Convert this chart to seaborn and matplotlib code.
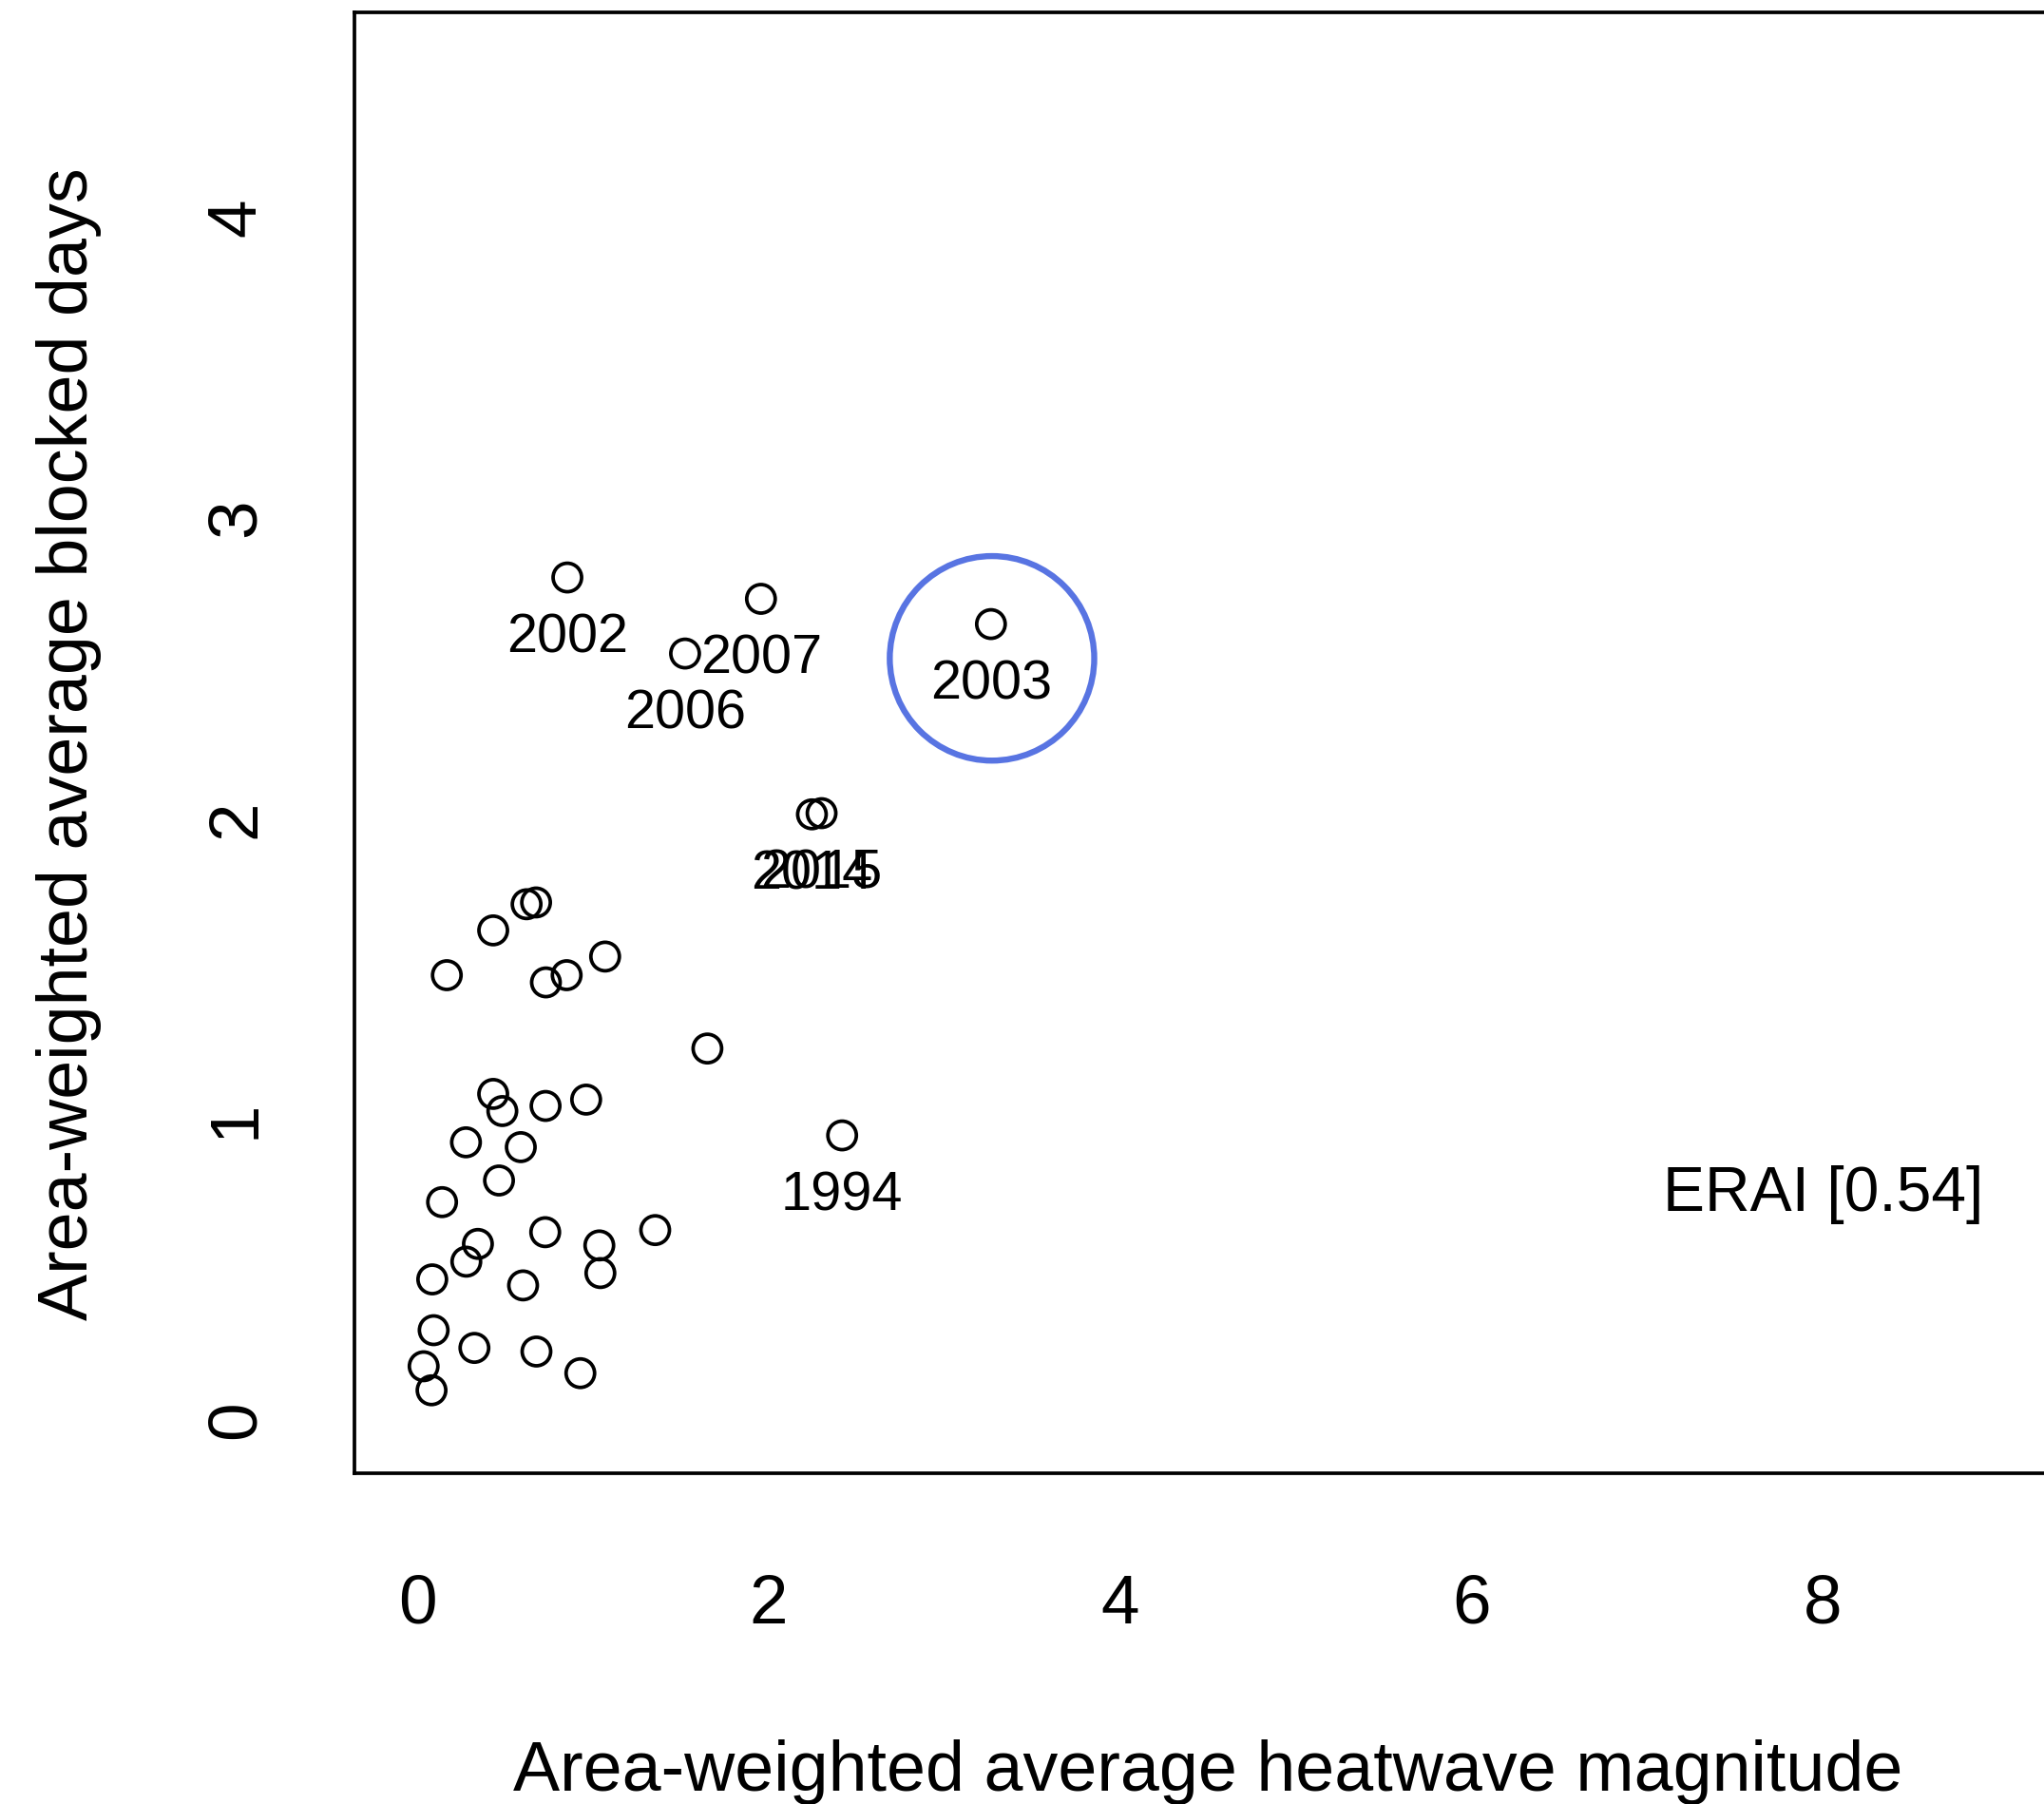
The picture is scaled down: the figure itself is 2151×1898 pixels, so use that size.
import matplotlib
matplotlib.use("Agg")
import matplotlib.pyplot as plt
import seaborn as sns
import pandas as pd

# Data (heatwave magnitude vs blocked days, ERAI)
heat_mag = [0.853, 1.955, 1.523, 3.264, 2.245, 2.300, 2.417,
            0.621, 0.675, 0.431, 0.167, 0.731, 0.849, 1.068, 1.650,
            0.431, 0.483, 0.729, 0.960, 0.276, 0.588, 0.464, 0.140,
            0.727, 0.344, 0.278, 1.035, 1.041, 1.353, 0.084, 0.601,
            0.092, 0.324, 0.677, 0.927, 0.035, 0.080]
blocked_days = [2.799, 2.728, 2.546, 2.644, 2.011, 2.015, 0.943,
                1.712, 1.718, 1.625, 1.476, 1.452, 1.476, 1.538, 1.232,
                1.081, 1.024, 1.041, 1.062, 0.920, 0.904, 0.793, 0.721,
                0.621, 0.582, 0.523, 0.577, 0.485, 0.628, 0.464, 0.444,
                0.295, 0.236, 0.224, 0.152, 0.175, 0.095]
years = ["2002", "2007", "2006", "2003", "2014", "2015", "1994"] + [""] * 30

highlight_x = [3.27]
highlight_y = [2.53]

x_ticks = [0, 2, 4, 6, 8]
y_ticks = [0, 1, 2, 3, 4]
dataset_note = "ERAI [0.54]"

df = pd.DataFrame({"mag": heat_mag, "days": blocked_days, "year": years})

sns.set_theme(style="white", rc={"text.color": "black",
                                 "axes.labelcolor": "black",
                                 "xtick.color": "black",
                                 "ytick.color": "black"})
plt.rcParams["font.family"] = ["Liberation Sans", "DejaVu Sans"]

fig = plt.figure(figsize=(21.51, 18.99), dpi=100)
ax = fig.add_axes([0.1733, 0.1834, 0.8355, 0.8094])

sns.scatterplot(data=df, x="mag", y="days", ax=ax, s=466, marker="o")
pts = ax.collections[0]
pts.set_facecolor("none")
pts.set_edgecolor("black")
pts.set_linewidth(2.7)

# blue ring around 2003
ax.scatter(highlight_x, highlight_y, s=24000, facecolors="none",
           edgecolors="#5874e2", linewidths=4.6, zorder=3)

for _, row in df[df["year"] != ""].iterrows():
    ax.annotate(row["year"], (row["mag"], row["days"]), xytext=(0, -45),
                textcoords="offset points", ha="center", va="center",
                fontsize=41.5, color="black")

ax.text(8.0, 0.75, dataset_note, ha="center", va="center", fontsize=47.5,
        color="black")

ax.set_xlim(-0.36, 9.36)
ax.set_ylim(-0.18, 4.68)
ax.set_xticks(x_ticks)
ax.set_yticks(y_ticks)
ax.set_xticklabels([str(t) for t in x_ticks])
ax.set_yticklabels([str(t) for t in y_ticks], rotation=90, va="center")

ax.tick_params(axis="both", direction="out", length=31.7, width=2.7,
               color="black", labelsize=52.5, labelcolor="black")
ax.tick_params(axis="x", pad=44)
ax.tick_params(axis="y", pad=33)
for sp in ax.spines.values():
    sp.set_visible(True)
    sp.set_color("black")
    sp.set_linewidth(2.7)

ax.set_xlabel("Area-weighted average heatwave magnitude", fontsize=53,
              va="baseline", color="black")
ax.xaxis.set_label_coords(0.5, -0.2168)
ax.set_ylabel("Area-weighted average blocked days", fontsize=53,
              va="baseline", color="black")
ax.yaxis.set_label_coords(-0.1562, 0.5)

fig.savefig("out.png", dpi=100, facecolor="white")
